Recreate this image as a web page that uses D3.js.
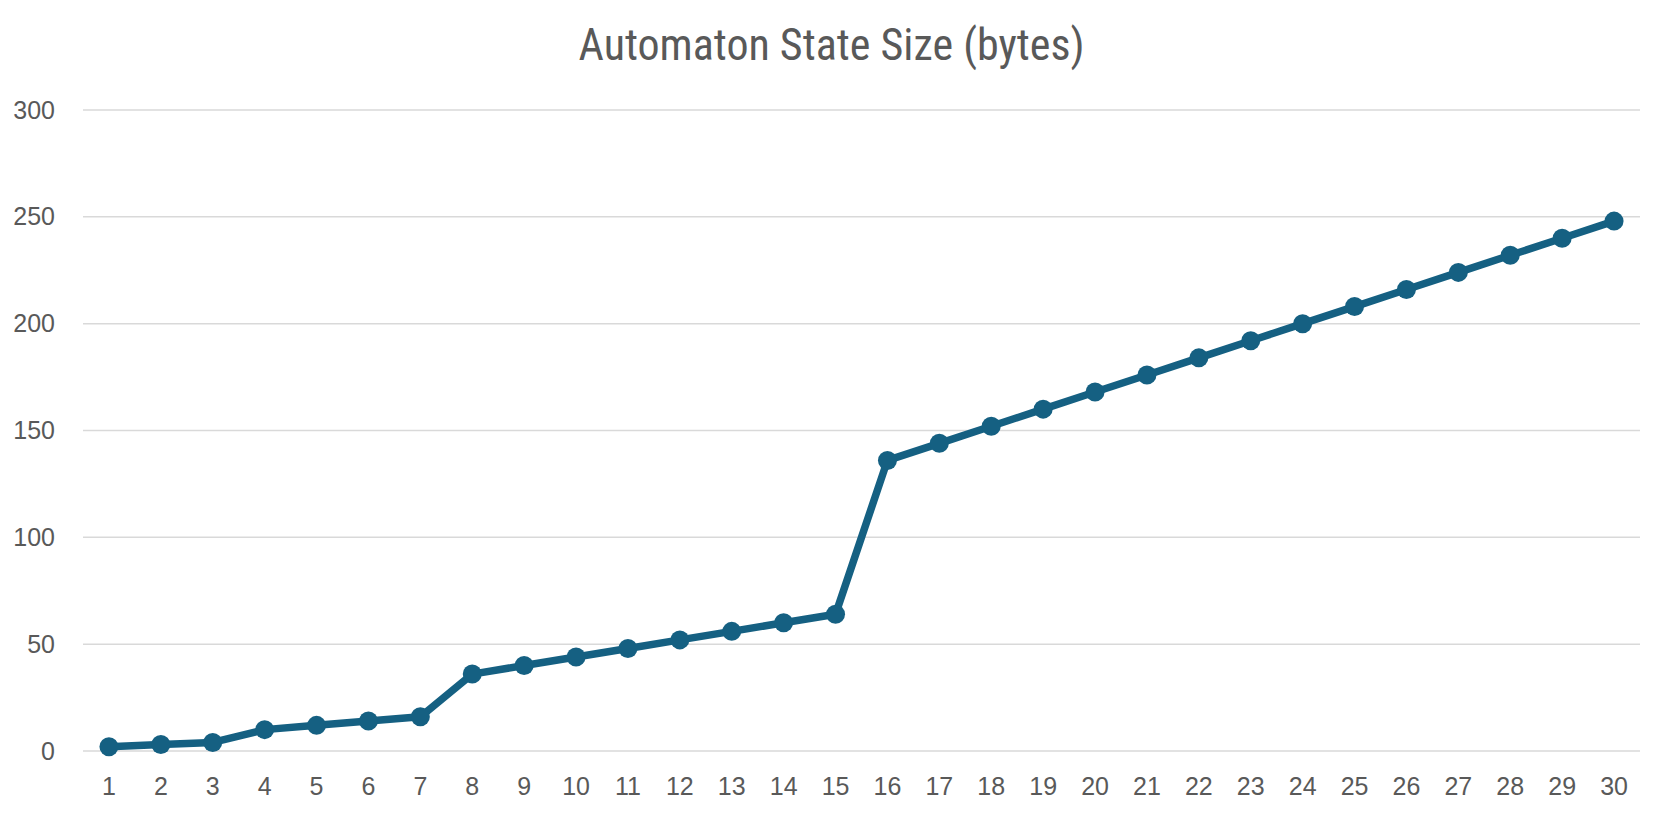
<!DOCTYPE html>
<html>
<head>
<meta charset="utf-8">
<script src="https://cdn.jsdelivr.net/npm/d3@7/dist/d3.min.js"></script>
<style>
  html, body { margin: 0; padding: 0; background: #ffffff; }
  svg { display: block; }
</style>
</head>
<body>
<svg id="chart" width="1663" height="814"></svg>
<script>
const chartTitle = "Automaton State Size (bytes)";
const categories = [1,2,3,4,5,6,7,8,9,10,11,12,13,14,15,16,17,18,19,20,21,22,23,24,25,26,27,28,29,30];
const stateSize = [2,3,4,10,12,14,16,36,40,44,48,52,56,60,64,136,144,152,160,168,176,184,192,200,208,216,224,232,240,248];
const yTicks = [0,50,100,150,200,250,300];

const W = 1663, H = 814;
const margin = {left: 83, right: 23, top: 110, bottom: 63};
const svg = d3.select("#chart");

const x = d3.scaleBand()
  .domain(categories)
  .range([margin.left, W - margin.right])
  .paddingInner(0).paddingOuter(0);

const y = d3.scaleLinear()
  .domain([0, 300])
  .range([H - margin.bottom, margin.top]);

// gridlines
svg.append("g")
  .selectAll("line")
  .data(yTicks)
  .join("line")
  .attr("x1", margin.left)
  .attr("x2", W - margin.right)
  .attr("y1", d => y(d))
  .attr("y2", d => y(d))
  .attr("stroke", "#d9d9d9")
  .attr("stroke-width", 1.5);

// y axis labels
const yAxis = d3.axisLeft(y).tickValues(yTicks).tickSize(0).tickPadding(28);
const gy = svg.append("g")
  .attr("transform", `translate(${margin.left},0)`)
  .call(yAxis);
gy.select(".domain").remove();
gy.selectAll("text")
  .attr("font-family", "'Liberation Sans', Arial, sans-serif")
  .attr("font-size", 25)
  .attr("fill", "#595959");

// x axis labels
const xAxis = d3.axisBottom(x).tickSize(0).tickPadding(26);
const gx = svg.append("g")
  .attr("transform", `translate(0,${y(0)})`)
  .call(xAxis);
gx.select(".domain").remove();
gx.selectAll("text")
  .attr("font-family", "'Liberation Sans', Arial, sans-serif")
  .attr("font-size", 25)
  .attr("fill", "#595959");

const cx = d => x(d) + x.bandwidth() / 2;
const data = categories.map((c, i) => ({c, v: stateSize[i]}));

// line
svg.append("path")
  .datum(data)
  .attr("fill", "none")
  .attr("stroke", "#156082")
  .attr("stroke-width", 7.5)
  .attr("stroke-linejoin", "round")
  .attr("stroke-linecap", "round")
  .attr("d", d3.line().x(d => cx(d.c)).y(d => y(d.v)));

// markers
svg.append("g")
  .selectAll("circle")
  .data(data)
  .join("circle")
  .attr("cx", d => cx(d.c))
  .attr("cy", d => y(d.v))
  .attr("r", 9.5)
  .attr("fill", "#156082");

// title
svg.append("text")
  .attr("x", W / 2)
  .attr("y", 60)
  .attr("text-anchor", "middle")
  .attr("font-family", "'Liberation Sans Narrow', 'Roboto Condensed', 'DejaVu Sans Condensed', sans-serif")
  .attr("font-size", 44)
  .attr("fill", "#595959")
  .text(chartTitle);
</script>
</body>
</html>
